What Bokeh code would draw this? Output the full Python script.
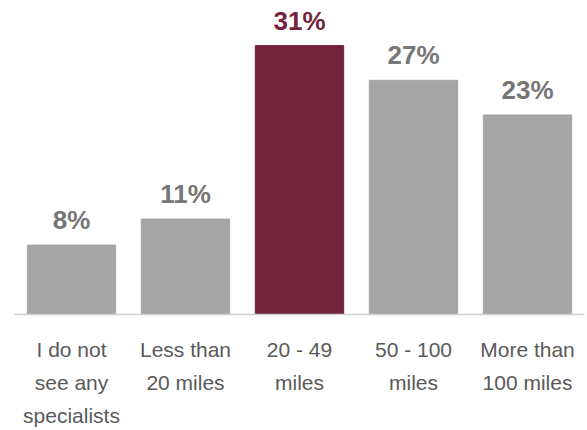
from bokeh.plotting import figure
from bokeh.models import ColumnDataSource, Range1d, FixedTicker
from bokeh.core.properties import value
from bokeh.embed import file_html
from bokeh.resources import INLINE

categories = ["I do not\nsee any\nspecialists", "Less than\n20 miles", "20 - 49\nmiles", "50 - 100\nmiles", "More than\n100 miles"]
values = [8, 11, 31, 27, 23]
highlight = [False, False, True, False, False]

GRAY = "#A5A5A5"
MAROON = "#74233C"
LABEL_GRAY = "#767676"

xs = list(range(len(categories)))
source = ColumnDataSource(dict(
    x=xs,
    top=values,
    color=[MAROON if h else GRAY for h in highlight],
    label=[f"{v}%" for v in values],
    label_color=[MAROON if h else LABEL_GRAY for h in highlight],
))

p = figure(width=587, height=430, output_backend="svg", toolbar_location=None,
           x_range=Range1d(-0.5, 4.5), y_range=Range1d(0, 36.2),
           min_border_left=14, min_border_right=3, min_border_top=0, min_border_bottom=115)

p.vbar(x="x", top="top", bottom=0, width=0.775, color="color", source=source)
p.text(x="x", y="top", text="label", source=source, text_color="label_color",
       text_align="center", text_baseline="bottom", y_offset=-10,
       text_font=value("Liberation Sans"), text_font_style="bold", text_font_size="26px")

p.yaxis.visible = False
p.grid.visible = False
p.outline_line_color = None
p.background_fill_color = "white"
p.border_fill_color = "white"

ax = p.xaxis[0]
ax.ticker = FixedTicker(ticks=xs)
ax.major_label_overrides = {i: c for i, c in enumerate(categories)}
ax.major_tick_line_color = None
ax.minor_tick_line_color = None
ax.major_tick_out = 0
ax.major_tick_in = 0
ax.axis_line_color = "#D0D0D0"
ax.axis_line_width = 1.5
ax.major_label_standoff = 23
ax.major_label_text_font = "Liberation Sans"
ax.major_label_text_font_size = "21px"
ax.major_label_text_color = "#595959"
ax.major_label_text_line_height = 1.45

open("out.html", "w").write(file_html(p, INLINE))
